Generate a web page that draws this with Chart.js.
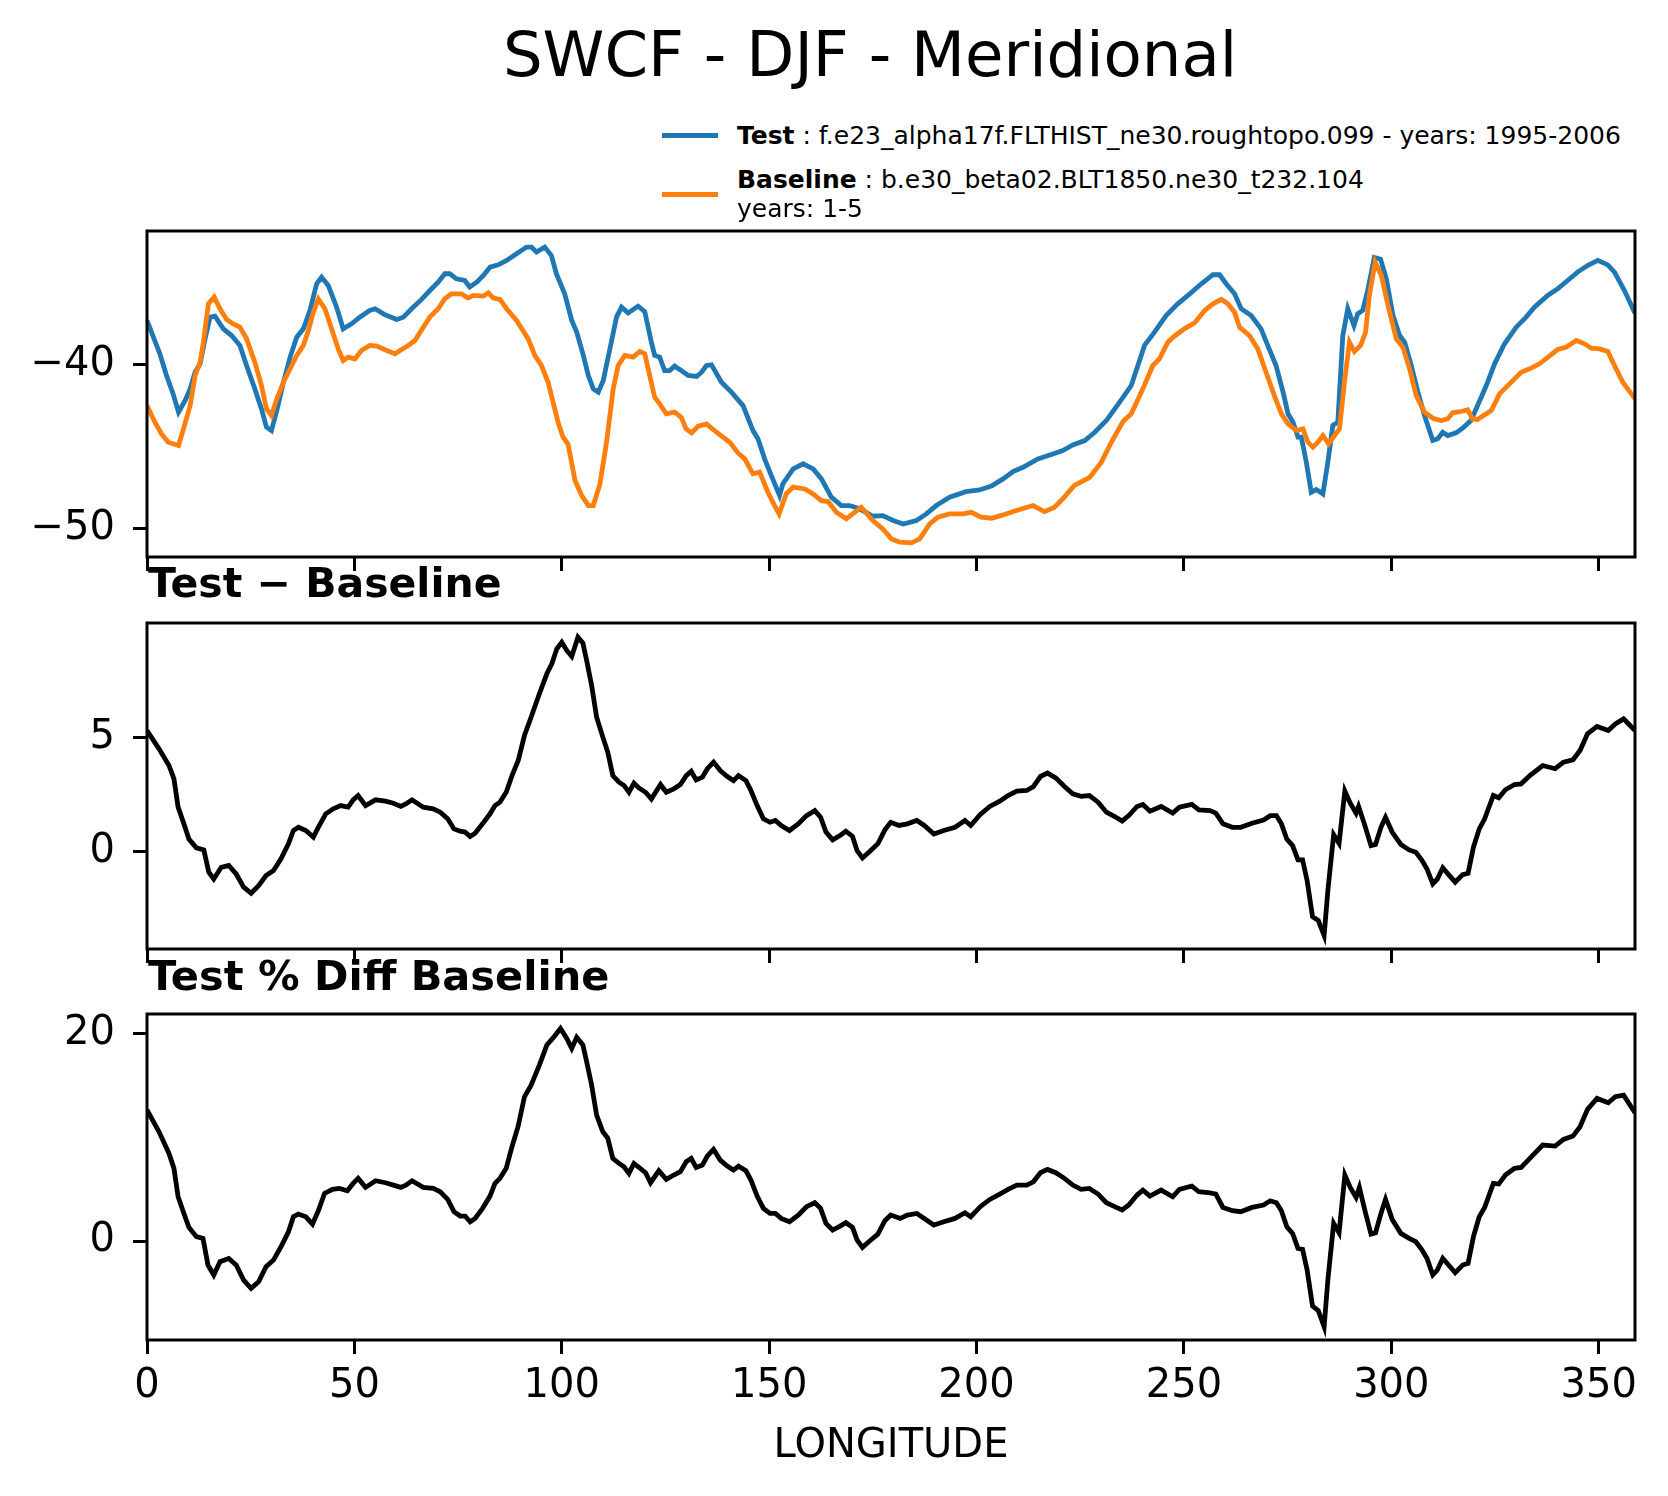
<!DOCTYPE html>
<html>
<head>
<meta charset="utf-8">
<script src="https://cdn.jsdelivr.net/npm/chart.js@4.4.1/dist/chart.umd.min.js"></script>
<style>
html,body{margin:0;padding:0;background:#fff;}
#fig{position:relative;width:1668px;height:1496px;overflow:hidden;background:#fff;font-family:"DejaVu Sans",sans-serif;color:#000;}
#fig canvas{position:absolute;left:0;}
.t{position:absolute;white-space:nowrap;line-height:1;font-family:"DejaVu Sans",sans-serif;color:#000;z-index:5;}
.sw{position:absolute;height:5px;z-index:5;}
</style>
</head>
<body>
<div id="fig">
  <div class="t" style="left:870px;top:24px;font-size:62.5px;transform:translateX(-50%);">SWCF - DJF - Meridional</div>

  <div class="sw" style="left:662px;top:133px;width:56px;background:#1f77b4;"></div>
  <div class="t" style="left:737px;top:123px;font-size:25px;"><b>Test</b> : f.e23_alpha17f.FLTHIST_ne30.roughtopo.099 - years: 1995-2006</div>
  <div class="sw" style="left:662px;top:192px;width:56px;background:#ff7f0e;"></div>
  <div class="t" style="left:737px;top:167px;font-size:25px;"><b>Baseline</b> : b.e30_beta02.BLT1850.ne30_t232.104</div>
  <div class="t" style="left:737px;top:196px;font-size:25px;">years: 1-5</div>

  <div class="t" style="left:148px;top:563px;font-size:41px;font-weight:bold;">Test − Baseline</div>
  <div class="t" style="left:148px;top:955px;font-size:41.5px;font-weight:bold;">Test % Diff Baseline</div>
  <div class="t" style="left:891px;top:1423px;font-size:40px;transform:translateX(-50%);">LONGITUDE</div>

  <canvas id="c1" width="1668" height="376" style="top:211px;width:1668px;height:376px;"></canvas>
  <canvas id="c2" width="1668" height="376" style="top:603px;width:1668px;height:376px;"></canvas>
  <canvas id="c3" width="1668" height="436" style="top:994px;width:1668px;height:436px;"></canvas>
</div>
<script>
// ---------------- data ----------------
const xTicks = [0, 50, 100, 150, 200, 250, 300, 350];
const yTicksTop = [-50, -40];
const yTicksDiff = [0, 5];
const yTicksPct = [0, 20];

// Test (blue)
const lonTest = [
  0, 3.1, 4.7, 6.3, 7.6, 9.2, 10.4, 11.6, 12.8, 14.0,
  15.2, 16.4, 18.4, 20.4, 22.4, 24.0, 26.0, 27.6, 28.8, 30.0,
  31.3, 32.9, 34.5, 36.1, 37.7, 39.3, 40.9, 42.1, 43.7, 45.7,
  47.3, 49.3, 51.3, 53.7, 55.0, 57.4, 60.2, 61.8, 63.8, 66.2,
  68.2, 70.2, 71.8, 73.0, 74.6, 76.6, 77.8, 79.5, 81.1, 82.7,
  84.7, 86.7, 89.1, 91.5, 92.7, 93.9, 95.9, 97.5, 98.7, 100.7,
  102.4, 103.6, 105.2, 106.4, 107.6, 108.8, 110.0, 111.6, 113.2, 114.4,
  116.0, 118.4, 120.0,
  121.6, 122.4, 123.6, 124.8, 126.0, 127.2, 128.8, 130.5, 132.5, 133.7,
  134.9, 136.1, 138.5, 140.9, 143.7, 146.1, 147.3, 148.9, 150.5, 152.5,
  153.3, 155.8, 158.2, 160.6, 162.6, 165.0, 167.4, 169.4, 171.8, 175.0,
  177.4, 179.9, 182.3, 185.5, 187.9, 190.3, 193.5, 195.9, 197.5, 200.7,
  203.6, 206.4, 208.8, 211.2, 214.8, 218.4, 220.8, 223.2, 226.1, 228.5,
  231.3, 234.5, 237.3,
  238.1, 240.5, 242.9, 245.7, 248.5, 251.4, 254.2, 257.0, 258.6, 260.2,
  262.2, 263.8, 266.2, 268.6, 270.2, 272.2, 273.9, 275.1, 276.3, 277.5,
  278.3, 279.5, 280.7, 281.9, 283.5, 284.7, 285.9, 287.1, 288.3, 289.5,
  291.0, 291.9, 293.1, 294.3, 295.9, 297.4, 298.8, 300.4, 302.0, 303.2,
  304.8, 306.4, 308.0, 310.0, 311.2, 312.4, 313.6, 315.6, 317.2, 319.2,
  320.8, 322.9, 324.9, 327.3, 330.1, 332.5, 334.5, 337.7, 340.1, 342.5,
  344.9, 347.4, 349.8, 352.2, 353.8, 356.2, 358.75
];
const valTest = [
  -37.34, -39.37, -40.69, -41.81, -42.92, -42.21, -41.50, -40.49, -39.98, -38.46,
  -37.14, -37.08, -37.85, -38.26, -38.86, -40.08, -41.50, -42.72, -43.83, -44.04,
  -42.82, -41.10, -39.57, -38.36, -37.85, -36.73, -35.11, -34.71, -35.21, -36.53,
  -37.85, -37.55, -37.14, -36.73, -36.63, -37.00, -37.28, -37.14, -36.63, -36.06,
  -35.52, -35.01, -34.50, -34.50, -34.81, -34.91, -35.31, -35.01, -34.60, -34.10,
  -33.96, -33.69, -33.29, -32.88, -32.88, -33.18, -32.88, -33.39, -34.50, -35.72,
  -37.34, -38.05, -39.47, -40.69, -41.50, -41.70, -40.99, -39.07, -37.14, -36.53,
  -36.88, -36.47, -36.80,
  -38.66, -39.47, -39.57, -40.39, -40.39, -40.12, -40.39, -40.69, -40.75, -40.49,
  -40.08, -40.04, -41.10, -41.70, -42.52, -44.04, -44.54, -45.76, -46.77, -47.99,
  -47.28, -46.37, -46.06, -46.37, -46.98, -48.09, -48.60, -48.60, -48.80, -49.25,
  -49.21, -49.51, -49.72, -49.51, -49.11, -48.60, -48.09, -47.89, -47.75, -47.65,
  -47.42, -46.98, -46.53, -46.27, -45.76, -45.46, -45.25, -44.91, -44.65, -44.14,
  -43.43, -42.31, -41.30,
  -40.69, -38.86, -38.05, -37.04, -36.33, -35.72, -35.11, -34.56, -34.56, -35.11,
  -35.72, -36.63, -37.04, -37.85, -38.86, -40.08, -41.70, -43.02, -43.53, -44.44,
  -44.44, -45.96, -47.79, -47.63, -47.89, -45.96, -43.73, -43.53, -38.26, -36.63,
  -37.65, -36.94, -36.73, -35.52, -33.51, -33.61, -34.81, -37.04, -38.26, -38.66,
  -40.08, -41.70, -43.12, -44.64, -44.54, -44.14, -44.34, -44.18, -43.89, -43.43,
  -42.52, -41.30, -39.98, -38.76, -37.75, -37.14, -36.53, -35.82, -35.42, -34.91,
  -34.40, -33.99, -33.69, -33.96, -34.40, -35.52, -36.90
];

// Baseline (orange)
const lonBase = [
  0, 1.9, 3.5, 5.1, 7.6, 8.8, 10.4, 11.6, 12.8, 13.6,
  14.8, 16.2, 17.6, 19.2, 20.8, 22.4, 24.0, 26.0, 27.6, 28.8,
  30.0, 31.3, 32.9, 34.5, 36.1, 37.7, 38.9, 40.1, 41.3, 42.9,
  44.5, 46.1, 47.3, 48.5, 50.1, 51.7, 53.7, 55.4, 57.8, 59.8,
  61.0, 63.0, 64.6, 66.6, 68.2, 70.2, 71.8, 73.4, 75.8, 77.4,
  78.7, 81.1, 82.3, 83.5, 85.1, 86.7, 89.1, 91.9, 93.5, 95.1,
  96.7, 97.9, 99.1, 100.3, 101.5, 103.2, 104.8, 106.4, 107.6, 109.2,
  110.8, 112.4, 113.6, 115.2, 117.2, 118.8, 120.0,
  121.2, 122.4, 123.6, 125.2, 127.2, 128.8, 130.0, 131.3, 132.9, 134.9,
  137.3, 140.5, 142.5, 144.1, 146.1, 147.7, 149.7, 151.3, 152.4, 154.1,
  155.8, 158.6, 160.6, 162.6, 164.2, 166.2, 168.6, 170.6, 172.2, 175.0,
  177.4, 179.5, 181.5, 184.3, 186.3, 188.7, 190.7, 193.5, 196.7, 198.7,
  201.1, 203.6, 206.4, 209.6, 213.6, 216.4, 218.8, 220.8, 223.6, 227.3,
  230.1, 232.5, 235.3, 237.3,
  240.1, 242.5, 244.1, 246.1, 247.7, 250.1, 252.6, 255.0, 257.0, 259.0,
  260.6, 262.2, 263.4, 265.8, 267.8, 269.8, 271.8, 273.5, 275.1, 277.1,
  278.7, 279.9, 281.1, 282.3, 283.5, 284.9, 286.3, 287.5, 288.7, 289.9,
  291.1, 292.6, 293.8, 294.7, 296.1, 297.6, 299.2, 301.2, 302.8, 304.4,
  306.0, 308.0, 310.0, 312.0, 313.6, 314.8, 316.8, 318.4, 319.6, 320.8,
  322.5, 324.1, 326.1, 328.5, 331.3, 333.7, 335.7, 338.1, 340.1, 342.1,
  344.6, 346.6, 348.2, 350.2, 352.2, 353.8, 355.8, 358.75
];
const valBase = [
  -42.52, -43.53, -44.24, -44.75, -44.95, -43.94, -42.52, -40.69, -39.88, -38.66,
  -36.33, -35.92, -36.63, -37.28, -37.55, -37.75, -38.46, -39.88, -41.30, -42.72,
  -43.12, -42.11, -41.10, -40.28, -39.47, -38.86, -37.95, -36.84, -36.03, -36.63,
  -37.85, -39.07, -39.78, -39.57, -39.68, -39.17, -38.86, -38.90, -39.17, -39.37,
  -39.17, -38.86, -38.56, -37.75, -37.14, -36.63, -36.02, -35.72, -35.72, -35.98,
  -35.82, -35.86, -35.66, -35.98, -36.06, -36.63, -37.34, -38.46, -39.47, -40.08,
  -41.10, -42.31, -43.53, -44.44, -44.85, -47.08, -47.99, -48.60, -48.60, -47.28,
  -44.75, -41.50, -40.08, -39.47, -39.57, -39.23, -39.37,
  -40.69, -42.01, -42.41, -43.02, -42.92, -43.23, -43.94, -44.18, -43.77, -43.63,
  -44.14, -44.75, -45.40, -45.76, -46.67, -46.57, -47.79, -48.60, -49.11, -47.89,
  -47.48, -47.59, -47.89, -48.30, -48.36, -49.01, -49.41, -49.01, -48.70, -49.51,
  -50.02, -50.63, -50.83, -50.87, -50.63, -49.72, -49.31, -49.11, -49.11, -49.01,
  -49.31, -49.37, -49.17, -48.90, -48.60, -48.97, -48.70, -48.19, -47.38, -46.88,
  -45.96, -44.75, -43.49, -43.02,
  -41.50, -40.08, -39.68, -38.66, -38.30, -37.85, -37.48, -36.73, -36.33, -36.06,
  -36.33, -36.84, -37.75, -38.26, -39.07, -40.49, -41.91, -43.02, -43.63, -44.04,
  -43.94, -44.75, -45.05, -44.75, -44.34, -44.85, -44.34, -43.94, -41.10, -38.66,
  -39.23, -38.86, -38.05, -35.82, -33.79, -34.60, -36.43, -38.46, -38.97, -40.28,
  -41.91, -42.92, -43.29, -43.43, -43.33, -42.96, -42.88, -42.78, -43.33, -43.37,
  -43.08, -42.82, -41.81, -41.20, -40.49, -40.24, -39.98, -39.51, -39.11, -38.97,
  -38.56, -38.76, -39.03, -39.07, -39.23, -40.08, -41.10, -42.10
];

// Test - Baseline (black, middle panel)
const lonDiff = [
  0, 2.9, 5.3, 6.5, 7.5, 8.9, 10.1, 11.9, 13.7, 14.9,
  16.1, 17.9, 19.7, 21.5, 23.3, 25.1, 26.9, 28.7, 30.5, 32.3,
  34.1, 35.3, 36.5, 38.3, 40.1, 41.3, 43.1, 44.9, 46.7, 48.5,
  49.7, 50.9, 52.7, 55.1, 57.5, 59.4, 61.2, 62.4, 63.9, 66.6,
  69.0, 70.7, 72.5, 74.0, 75.5, 76.7, 77.9, 79.1, 80.9, 82.7,
  83.9, 85.1, 86.6, 88.0, 89.5, 91.0, 92.6, 94.6, 96.4, 97.6,
  98.8, 100.0, 101.2, 102.4, 103.9, 105.1, 106.0, 107.2, 108.4, 109.9,
  111.1, 112.3, 113.8, 115.0, 116.2, 117.4, 118.6, 120.2, 121.6, 123.8,
  125.2, 127.0, 128.6, 130.0, 131.2, 132.4, 133.9, 135.1, 136.6, 138.2,
  139.9, 141.4, 142.6, 144.4, 145.6, 147.1, 148.6,
  150.2, 151.5, 152.9, 154.9, 157.0, 159.0, 161.0, 162.4, 163.7, 165.3,
  167.1, 168.5, 170.1, 171.2, 172.5, 174.3, 176.2, 177.9, 179.3, 181.3,
  183.3, 185.6, 187.4, 189.7, 192.1, 194.8, 197.2, 198.6, 200.9, 203.2,
  205.6, 207.6, 209.7, 212.1, 213.7, 215.4, 217.1, 219.1, 221.2, 223.2,
  225.2, 227.2, 229.3, 231.3, 233.3, 235.1, 236.7, 238.7, 240.1, 241.8,
  244.5, 247.3, 248.9, 251.9, 253.6, 256.3, 257.7, 259.4, 261.7, 263.7,
  266.4, 269.2, 270.8, 272.3, 273.5, 274.8, 276.2, 277.5, 278.6, 279.7,
  281.0, 282.4, 283.8, 284.7, 286.1, 287.4, 288.8, 290.1, 291.5, 292.1,
  293.5, 295.1, 296.2, 297.5, 298.6, 300.2, 302.3, 304.3, 305.9, 307.3,
  308.6, 310.0, 311.1, 312.4, 313.8, 315.4, 317.2, 318.5, 319.8, 321.2,
  322.5, 324.6, 325.9, 327.5, 329.7, 331.3, 333.4, 336.5, 339.5, 341.5,
  343.8, 345.5, 347.3, 349.6, 352.3, 354.0, 356.0, 358.75
];
const valDiff = [
  5.29, 4.49, 3.76, 3.18, 1.94, 1.21, 0.55, 0.16, 0.07, -0.90,
  -1.20, -0.69, -0.61, -0.98, -1.56, -1.82, -1.49, -1.05, -0.83, -0.32,
  0.34, 0.92, 1.06, 0.92, 0.63, 1.06, 1.65, 1.87, 2.01, 1.94,
  2.26, 2.45, 2.01, 2.26, 2.20, 2.11, 1.97, 2.08, 2.26, 1.94,
  1.87, 1.72, 1.43, 0.99, 0.89, 0.85, 0.66, 0.80, 1.21, 1.65,
  2.01, 2.16, 2.59, 3.32, 3.98, 5.07, 5.87, 6.90, 7.77, 8.21,
  8.86, 9.15, 8.79, 8.53, 9.37, 9.11, 8.35, 7.26, 5.87, 5.00,
  4.34, 3.32, 3.03, 2.89, 2.59, 2.99, 2.78, 2.59, 2.30, 2.93,
  2.59, 2.74, 2.93, 3.32, 3.51, 3.13, 3.25, 3.62, 3.91, 3.54,
  3.28, 3.10, 3.32, 3.10, 2.67, 2.01, 1.43,
  1.28, 1.36, 1.14, 0.92, 1.21, 1.57, 1.79, 1.50, 0.85, 0.51,
  0.70, 0.89, 0.66, 0.04, -0.28, 0.01, 0.34, 0.95, 1.28, 1.14,
  1.21, 1.36, 1.14, 0.77, 0.92, 1.06, 1.36, 1.14, 1.62, 1.97,
  2.20, 2.45, 2.64, 2.67, 2.84, 3.28, 3.43, 3.22, 2.84, 2.52,
  2.41, 2.45, 2.16, 1.72, 1.53, 1.33, 1.57, 1.97, 2.06, 1.76,
  1.97, 1.68, 1.94, 2.06, 1.82, 1.79, 1.68, 1.21, 1.06, 1.06,
  1.24, 1.38, 1.57, 1.57, 1.21, 0.55, 0.26, -0.36, -0.36, -1.27,
  -2.84, -3.02, -3.67, -1.71, 0.74, 0.36, 2.64, 2.11, 1.68, 1.97,
  1.21, 0.26, 0.31, 1.06, 1.50, 0.85, 0.31, 0.07, -0.03, -0.36,
  -0.76, -1.41, -1.20, -0.71, -1.01, -1.34, -1.01, -0.95, 0.19, 0.99,
  1.43, 2.45, 2.35, 2.70, 2.93, 2.96, 3.32, 3.76, 3.62, 3.91,
  4.01, 4.42, 5.15, 5.47, 5.29, 5.58, 5.80, 5.29
];

// Test % Diff Baseline (black, bottom panel)
const lonPct = [
  0, 2.9, 5.3, 6.5, 7.5, 8.9, 10.1, 11.9, 13.5, 14.7,
  16.1, 17.6, 19.7, 21.5, 23.3, 25.1, 26.9, 28.7, 30.5, 32.3,
  34.1, 35.3, 36.5, 38.3, 39.9, 41.3, 42.8, 44.7, 46.4, 48.3,
  49.7, 50.9, 52.7, 55.1, 57.5, 59.4, 61.2, 62.4, 63.9, 66.6,
  69.0, 70.7, 72.5, 74.0, 75.5, 76.7, 77.9, 79.1, 80.9, 82.7,
  83.9, 85.1, 86.6, 88.0, 89.5, 91.0, 92.6, 94.6, 96.4, 97.8,
  99.7, 101.2, 102.4, 103.6, 105.1, 106.0, 107.2, 108.4, 109.9, 111.1,
  112.3, 113.8, 115.0, 116.2, 117.4, 118.6, 120.2, 121.4, 123.4, 125.2,
  127.0, 128.6, 130.0, 131.2, 132.4, 133.9, 135.1, 136.6, 138.2, 139.9,
  141.4, 142.6, 144.4, 145.6, 147.1, 148.6,
  150.2, 151.5, 152.9, 154.9, 157.0, 159.0, 161.0, 162.4, 163.7, 165.3,
  167.1, 168.5, 170.1, 171.2, 172.5, 174.3, 176.2, 177.9, 179.3, 181.6,
  183.3, 185.6, 187.4, 189.7, 192.1, 194.8, 197.2, 198.6, 200.9, 203.2,
  205.6, 207.6, 209.7, 212.1, 213.7, 215.4, 217.1, 219.1, 221.2, 223.2,
  225.2, 227.2, 229.3, 231.3, 233.3, 235.1, 236.7, 238.7, 240.1, 241.8,
  244.5, 247.3, 248.9, 251.9, 253.6, 256.3, 257.7, 259.4, 261.7, 263.7,
  266.4, 269.2, 270.8, 272.3, 273.5, 274.8, 276.2, 277.5, 278.6, 279.7,
  281.0, 282.4, 283.8, 284.7, 286.1, 287.4, 288.8, 290.1, 291.5, 292.3,
  293.6, 295.1, 296.2, 297.5, 298.6, 300.2, 302.3, 304.3, 305.9, 307.3,
  308.6, 310.0, 311.1, 312.4, 313.8, 315.4, 317.2, 318.5, 319.8, 321.2,
  322.5, 324.6, 325.9, 327.5, 329.7, 331.3, 333.4, 336.5, 339.5, 341.5,
  343.8, 345.5, 347.3, 349.6, 352.3, 354.0, 356.0, 358.75
];
const valPct = [
  12.62, 10.53, 8.44, 7.00, 4.27, 2.66, 1.32, 0.42, 0.26, -2.31,
  -3.27, -1.99, -1.67, -2.31, -3.76, -4.56, -3.92, -2.47, -1.83, -0.55,
  0.90, 2.34, 2.60, 2.34, 1.64, 2.92, 4.59, 4.98, 5.07, 4.85,
  5.55, 6.04, 5.17, 5.81, 5.62, 5.39, 5.17, 5.39, 5.81, 5.17,
  5.07, 4.75, 4.01, 2.83, 2.41, 2.41, 1.86, 2.18, 3.15, 4.33,
  5.55, 6.04, 7.00, 9.09, 11.08, 13.90, 15.02, 16.95, 18.88, 19.52,
  20.48, 19.52, 18.56, 19.62, 18.88, 17.27, 15.02, 12.13, 10.53, 9.89,
  7.96, 7.48, 7.16, 6.52, 7.48, 7.09, 6.58, 5.62, 6.77, 5.94,
  6.36, 6.68, 7.64, 7.96, 7.09, 7.32, 8.19, 8.83, 7.80, 7.22,
  6.84, 7.22, 6.77, 5.87, 4.33, 3.15,
  2.66, 2.66, 2.18, 1.86, 2.50, 3.31, 3.69, 3.15, 1.70, 1.06,
  1.44, 1.77, 1.32, 0.10, -0.61, 0.03, 0.67, 1.96, 2.50, 2.18,
  2.50, 2.66, 2.18, 1.54, 1.86, 2.18, 2.73, 2.34, 3.31, 4.01,
  4.53, 4.98, 5.39, 5.39, 5.71, 6.58, 6.90, 6.58, 6.04, 5.39,
  4.98, 5.07, 4.53, 3.69, 3.31, 2.99, 3.47, 4.43, 4.91, 4.33,
  4.91, 4.27, 4.98, 5.30, 4.75, 4.65, 4.53, 3.24, 2.92, 2.83,
  3.24, 3.47, 3.88, 3.69, 2.92, 1.38, 0.74, -0.71, -0.80, -2.79,
  -6.26, -6.71, -8.25, -3.76, 1.70, 0.80, 6.36, 5.17, 4.21, 5.17,
  2.99, 0.67, 0.80, 2.66, 4.01, 2.09, 0.74, 0.26, -0.06, -0.80,
  -1.67, -3.27, -2.79, -1.67, -2.31, -3.05, -2.31, -2.15, 0.42, 2.34,
  3.24, 5.55, 5.49, 6.36, 7.00, 7.09, 7.96, 9.25, 9.15, 9.79,
  10.11, 11.01, 12.68, 13.74, 13.32, 13.90, 14.06, 12.36
];

// ---------------- drawing ----------------
const FONT = 'DejaVu Sans';
function pts(lon, val) {
  const n = Math.min(lon.length, val.length);
  const out = [];
  for (let i = 0; i < n; i++) out.push({x: lon[i], y: val[i]});
  return out;
}
function fmt(v) { return v < 0 ? '\u2212' + Math.abs(v) : String(v); }

const framePlugin = {
  id: 'frame',
  afterDatasetsDraw(chart) {
    const {ctx, chartArea: a} = chart;
    ctx.save();
    ctx.strokeStyle = '#000';
    ctx.lineWidth = 3;
    ctx.strokeRect(a.left, a.top, a.right - a.left, a.bottom - a.top);
    ctx.restore();
  }
};

function axisGrid() {
  return {display: true, drawOnChartArea: false, drawTicks: true,
          tickLength: 14, tickWidth: 3, tickColor: '#000'};
}

function makePanel(id, datasets, ymin, ymax, yTicks, showX, xH) {
  return new Chart(document.getElementById(id), {
    type: 'line',
    data: {datasets},
    options: {
      responsive: false,
      maintainAspectRatio: false,
      animation: false,
      devicePixelRatio: 1,
      parsing: false,
      normalized: true,
      layout: {padding: {left: 0, right: 33, top: 20, bottom: 0}},
      plugins: {legend: {display: false}, tooltip: {enabled: false}, title: {display: false}},
      elements: {point: {radius: 0, hoverRadius: 0}, line: {tension: 0}},
      scales: {
        x: {
          type: 'linear', min: 0, max: 358.75,
          afterBuildTicks(s) { s.ticks = xTicks.map(v => ({value: v})); },
          afterFit(s) { s.height = xH; s.paddingLeft = 0; s.paddingRight = 0; },
          grid: axisGrid(),
          border: {display: false},
          ticks: {display: showX, color: '#000', font: {family: FONT, size: 40},
                  padding: 9, maxRotation: 0, minRotation: 0, autoSkip: false,
                  callback: v => fmt(v)}
        },
        y: {
          type: 'linear', min: ymin, max: ymax,
          afterBuildTicks(s) { s.ticks = yTicks.map(v => ({value: v})); },
          afterFit(s) { s.width = 147; s.paddingTop = 0; s.paddingBottom = 0; },
          grid: axisGrid(),
          border: {display: false},
          ticks: {color: '#000', font: {family: FONT, size: 40}, padding: 18,
                  autoSkip: false, callback: v => fmt(v)}
        }
      }
    },
    plugins: [framePlugin]
  });
}

makePanel('c1', [
  {label: 'Test', data: pts(lonTest, valTest), borderColor: '#1f77b4', borderWidth: 4.8, fill: false, order: 2},
  {label: 'Baseline', data: pts(lonBase, valBase), borderColor: '#ff7f0e', borderWidth: 4.8, fill: false, order: 1}
], -51.73, -31.9, yTicksTop, false, 30);

makePanel('c2', [
  {label: 'Test - Baseline', data: pts(lonDiff, valDiff), borderColor: '#000', borderWidth: 4.8, fill: false}
], -4.26, 9.99, yTicksDiff, false, 30);

makePanel('c3', [
  {label: 'Test % Diff Baseline', data: pts(lonPct, valPct), borderColor: '#000', borderWidth: 4.8, fill: false}
], -9.53, 21.87, yTicksPct, true, 90);
</script>
</body>
</html>
